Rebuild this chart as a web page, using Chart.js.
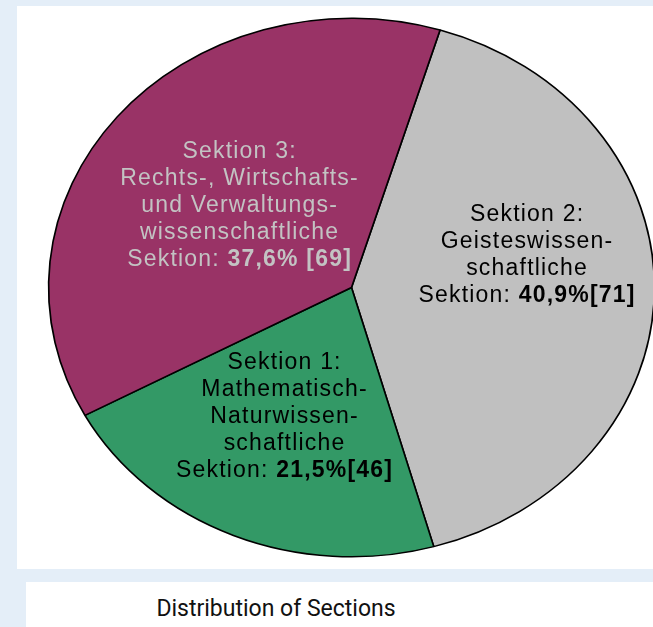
<!DOCTYPE html>
<html>
<head>
<meta charset="utf-8">
<script src="https://cdn.jsdelivr.net/npm/chart.js@4.4.1/dist/chart.umd.min.js"></script>
<style>
  body { margin: 0; background: #e4eef8; width: 653px; height: 627px; overflow: hidden; position: relative; }
  #panel { position: absolute; left: 17px; top: 6px; width: 640px; height: 563px; background: #fff; }
  #titleBox { position: absolute; left: 26px; top: 582px; width: 640px; height: 60px; background: #fff; }
  #title { position: absolute; left: 26px; top: 595px; width: 500px; text-align: center;
           font: 23px Roboto, sans-serif; color: #111; }
  #chart { position: absolute; left: 0; top: 0; }
</style>
</head>
<body>
<div id="panel"></div>
<div id="titleBox"></div>
<div id="title">Distribution of Sections</div>
<canvas id="chart" width="653" height="627"></canvas>
<script>
const sections = ['Sektion 2:', 'Sektion 1:', 'Sektion 3:'];
const sectionNames = [
    ['Geisteswissen-', 'schaftliche'],
    ['Mathematisch-', 'Naturwissen-', 'schaftliche'],
    ['Rechts-, Wirtschafts-', 'und Verwaltungs-', 'wissenschaftliche']
];
const shares = [40.9, 21.5, 37.6];
const counts = [71, 46, 69];
const countGap = ['', '', ' '];

const sliceColors = ['#c0c0c0', '#339966', '#993366'];
const textColors = ['#000000', '#000000', '#c3c3c3'];
// label position nudge from the mid-angle anchor (px)
const labelNudge = [[9, -34], [-2, -7], [17, 12]];

const stretchX = 1.125;   // original pie is an ellipse, wider than tall
const lineH = 27;
const fontPx = 23;

function fmt(v) {
    return v.toFixed(1).replace('.', ',') + '%';
}

const ellipse = {
    id: 'ellipse',
    beforeDatasetsDraw(chart) {
        const arc = chart.getDatasetMeta(0).data[0];
        const ctx = chart.ctx;
        ctx.save();
        ctx.translate(arc.x, arc.y);
        ctx.scale(stretchX, 1);
        ctx.translate(-arc.x, -arc.y);
    },
    afterDatasetsDraw(chart) {
        chart.ctx.restore();
    }
};

const sliceLabels = {
    id: 'sliceLabels',
    afterDraw(chart) {
        const ctx = chart.ctx;
        const arcs = chart.getDatasetMeta(0).data;
        ctx.save();
        ctx.textAlign = 'left';
        ctx.textBaseline = 'middle';
        ctx.letterSpacing = '1.2px';
        arcs.forEach((arc, i) => {
            const mid = (arc.startAngle + arc.endAngle) / 2;
            const r = arc.outerRadius * 0.55;
            const cx = arc.x + Math.cos(mid) * r * stretchX + labelNudge[i][0];
            const cy = arc.y + Math.sin(mid) * r + labelNudge[i][1];
            const lines = [sections[i], ...sectionNames[i]];
            const n = lines.length + 1;
            let y = cy - (n - 1) * lineH / 2;
            ctx.fillStyle = textColors[i];
            const normal = `${fontPx}px "Liberation Sans", Arial, sans-serif`;
            const bold = `bold ${fontPx}px "Liberation Sans", Arial, sans-serif`;
            ctx.font = normal;
            lines.forEach(t => {
                const w = ctx.measureText(t).width;
                ctx.fillText(t, cx - w / 2, y);
                y += lineH;
            });
            const a = 'Sektion: ';
            const b = fmt(shares[i]) + countGap[i] + '[' + counts[i] + ']';
            ctx.font = normal;
            const wa = ctx.measureText(a).width;
            ctx.font = bold;
            const wb = ctx.measureText(b).width;
            let x = cx - (wa + wb) / 2;
            ctx.font = normal;
            ctx.fillText(a, x, y);
            ctx.font = bold;
            ctx.fillText(b, x + wa, y);
        });
        ctx.restore();
    }
};

new Chart(document.getElementById('chart'), {
    type: 'pie',
    data: {
        labels: sections,
        datasets: [{
            data: shares,
            backgroundColor: sliceColors,
            borderColor: '#000000',
            borderWidth: 1.5
        }]
    },
    options: {
        responsive: false,
        animation: false,
        rotation: 17,
        layout: { padding: { left: 81.5, right: 31.5, top: 17, bottom: 69 } },
        plugins: {
            legend: { display: false },
            tooltip: { enabled: false }
        }
    },
    plugins: [ellipse, sliceLabels]
});
</script>
</body>
</html>
